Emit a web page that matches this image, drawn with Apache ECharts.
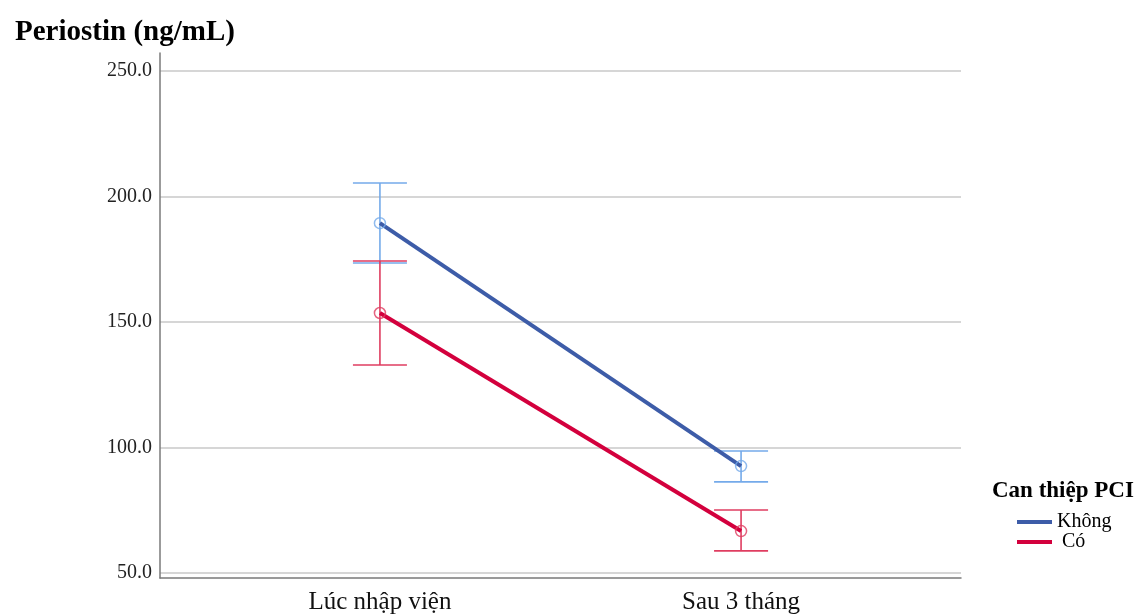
<!DOCTYPE html>
<html><head><meta charset="utf-8">
<script src="https://cdn.jsdelivr.net/npm/echarts@6/dist/echarts.min.js"></script>
<style>html,body{margin:0;padding:0;background:#fff}#c{width:1136px;height:615px}</style>
</head><body><div id="c"></div>
<script>
const categories = ['Lúc nhập viện', 'Sau 3 tháng'];
const seriesNames = ['Không', 'Có'];
const meanKhong = [189.4, 92.6];
const lowKhong = [173.5, 86.3];
const highKhong = [205.4, 98.6];
const meanCo = [153.6, 66.7];
const lowCo = [132.9, 58.8];
const highCo = [174.3, 75.1];
const yTicks = [50, 100, 150, 200, 250];

const F = 'Liberation Serif, Times New Roman, serif';
const lineColors = ['#3d5ca8', '#d3003d'];
const ciColors = ['#74aaea', '#df3d60'];

function errSeries(name, lows, highs, color) {
  return {
    type: 'custom', name: name + ' CI', z: 2,
    data: lows.map((l, i) => [i, l, highs[i]]),
    renderItem: function (params, api) {
      const x = api.value(0);
      const lo = api.coord([x, api.value(1)]);
      const hi = api.coord([x, api.value(2)]);
      const hw = 27;
      const st = { stroke: color, lineWidth: 1.6, fill: null };
      return { type: 'group', children: [
        { type: 'line', shape: { x1: lo[0], y1: lo[1], x2: hi[0], y2: hi[1] }, style: st },
        { type: 'line', shape: { x1: lo[0] - hw, y1: lo[1], x2: lo[0] + hw, y2: lo[1] }, style: st },
        { type: 'line', shape: { x1: hi[0] - hw, y1: hi[1], x2: hi[0] + hw, y2: hi[1] }, style: st }
      ]};
    }
  };
}
function lineSeries(name, means, color) {
  return { type: 'line', name: name, z: 3, data: means.map((v, i) => [i, v]), symbol: 'none',
    lineStyle: { color: color, width: 4 }, itemStyle: { color: color } };
}
function markSeries(name, means, color) {
  return { type: 'scatter', name: name + ' mean', z: 4, data: means.map((v, i) => [i, v]),
    symbol: 'circle', symbolSize: 11,
    itemStyle: { color: 'rgba(0,0,0,0)', borderColor: color, borderWidth: 1.5 } };
}

const chart = echarts.init(document.getElementById('c'));
chart.setOption({
  animation: false,
  title: { text: 'Periostin (ng/mL)', left: 10, top: 13,
    textStyle: { fontFamily: F, fontSize: 29, fontWeight: 'bold', color: '#000' } },
  legend: {
    data: seriesNames, orient: 'vertical', left: 1012, top: 507, itemGap: 0,
    icon: 'rect', itemWidth: 35, itemHeight: 4,
    formatter: n => n === 'Có' ? ' ' + n : n,
    textStyle: { fontFamily: F, fontSize: 20, lineHeight: 19, color: '#000' }
  },
  graphic: [{ type: 'text', left: 992, top: 480,
    style: { text: 'Can thiệp PCI', font: 'bold 23px ' + F, fill: '#000' } }],
  grid: { left: 160, right: 175, top: 53, bottom: 37 },
  xAxis: {
    type: 'value', min: -0.609, max: 1.609,
    axisLine: { show: true, onZero: false, lineStyle: { color: '#7a7a7a', width: 1.5 } },
    axisTick: { show: false },
    splitLine: { show: false },
    axisLabel: { customValues: [0, 1], formatter: v => categories[Math.round(v)],
      fontFamily: F, fontSize: 25, color: '#111', margin: 12 }
  },
  yAxis: {
    type: 'value', min: 48, max: 257.2,
    axisLine: { show: true, onZero: false, lineStyle: { color: '#7a7a7a', width: 1.5 } },
    axisTick: { show: false, customValues: yTicks },
    splitLine: { show: true, lineStyle: { color: '#c8c8c8', width: 1.5 } },
    axisLabel: { customValues: yTicks, formatter: v => v.toFixed(1),
      fontFamily: F, fontSize: 20, color: '#222', margin: 8, padding: [4, 0, 0, 0] }
  },
  series: [
    errSeries('Không', lowKhong, highKhong, ciColors[0]),
    errSeries('Có', lowCo, highCo, ciColors[1]),
    lineSeries('Không', meanKhong, lineColors[0]),
    lineSeries('Có', meanCo, lineColors[1]),
    markSeries('Không', meanKhong, ciColors[0]),
    markSeries('Có', meanCo, ciColors[1])
  ]
});
</script></body></html>
